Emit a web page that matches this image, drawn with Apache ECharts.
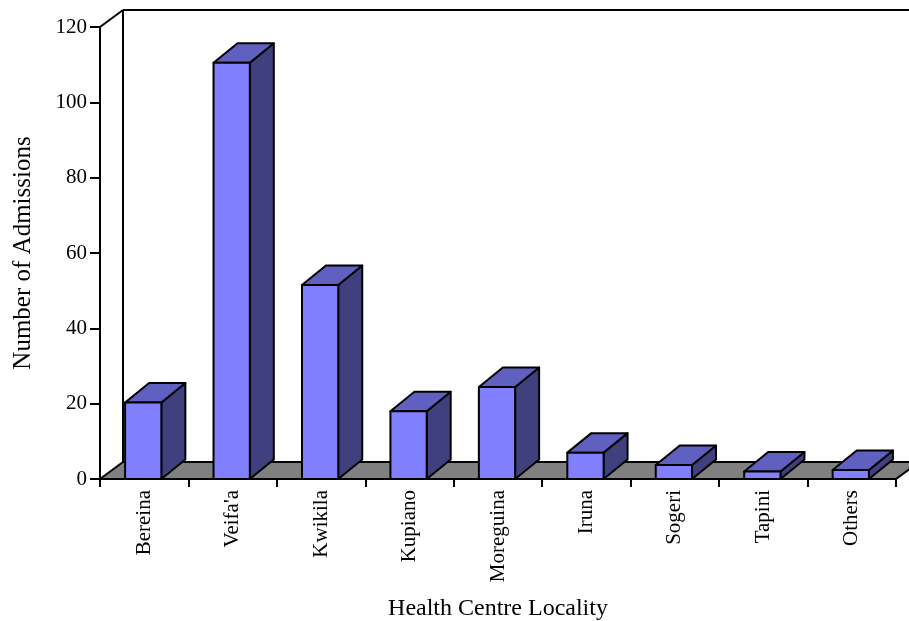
<!DOCTYPE html>
<html>
<head>
<meta charset="utf-8">
<style>html,body{margin:0;padding:0;background:#fff}#c{width:909px;height:621px}</style>
<script src="https://cdn.jsdelivr.net/npm/echarts@6/dist/echarts.min.js"></script>
</head>
<body>
<div id="c"></div>
<script>
const categories = ["Bereina","Veifa'a","Kwikila","Kupiano","Moreguina","Iruna","Sogeri","Tapini","Others"];
const admissions = [20.3,110.5,51.5,18,24.4,7,3.7,2,2.4];
const yTicks = {min:0,max:120,interval:20};
const xTitle = "Health Centre Locality";
const yTitle = "Number of Admissions";

const FONT = '"Liberation Serif","Times New Roman",serif';
const wallDX = 23, wallDY = -17;
const barDX = 24, barDY = -19.5;
const barShare = 0.41;
const ink = {stroke:'#000',lineWidth:2,lineJoin:'round'};

function poly(points, fill, lw){
  return {type:'polygon',shape:{points},style:Object.assign({},ink,{fill,lineWidth:lw||2})};
}
function line(x1,y1,x2,y2){
  return {type:'line',shape:{x1,y1,x2,y2},style:{stroke:'#000',lineWidth:2,fill:null}};
}
function renderFrame(params){
  const g = params.coordSys;
  const l=g.x, r=g.x+g.width, t=g.y, b=g.y+g.height;
  return {type:'group',children:[
    poly([[l,b],[l+wallDX,b+wallDY],[r+wallDX,b+wallDY],[r,b]],'#808080'),
    line(l+wallDX,t+wallDY,l+wallDX,b+wallDY),
    line(l+wallDX,t+wallDY,r+wallDX,t+wallDY),
    line(l,t,l+wallDX,t+wallDY)
  ]};
}
function renderBar(params, api){
  const top = api.coord([api.value(0),api.value(1)]);
  const base = api.coord([api.value(0),0]);
  const w = api.size([1,0])[0]*barShare;
  const L=top[0]-w/2-1, R=L+w, T=top[1], B=base[1];
  return {type:'group',children:[
    poly([[R,T],[R+barDX,T+barDY],[R+barDX,B+barDY],[R,B]],'#40407F'),
    poly([[L,T],[L+barDX,T+barDY],[R+barDX,T+barDY],[R,T]],'#6060C0'),
    poly([[L,T],[R,T],[R,B],[L,B]],'#8080FF')
  ]};
}
const chart = echarts.init(document.getElementById('c'),null,{renderer:'canvas'});
chart.setOption({
  animation:false,
  backgroundColor:'#fff',
  grid:{left:100,top:27,width:796,height:452,containLabel:false,outerBoundsMode:'none'},
  xAxis:{
    type:'category',data:categories,
    axisLine:{show:true,onZero:false,lineStyle:{color:'#000',width:2}},
    axisTick:{show:true,length:8,alignWithLabel:false,lineStyle:{color:'#000',width:2}},
    axisLabel:{interval:0,rotate:90,margin:11,color:'#000',fontFamily:FONT,fontSize:21},
    name:xTitle,nameLocation:'middle',nameGap:118,
    nameTextStyle:{color:'#000',fontFamily:FONT,fontSize:24}
  },
  yAxis:{
    type:'value',min:yTicks.min,max:yTicks.max,interval:yTicks.interval,
    axisLine:{show:true,lineStyle:{color:'#000',width:2}},
    axisTick:{show:true,length:10,lineStyle:{color:'#000',width:2}},
    splitLine:{show:false},
    axisLabel:{margin:13,color:'#000',fontFamily:FONT,fontSize:21},
    name:yTitle,nameLocation:'middle',nameGap:64,nameRotate:90,
    nameTextStyle:{color:'#000',fontFamily:FONT,fontSize:25}
  },
  series:[
    {type:'custom',coordinateSystem:'cartesian2d',data:[[0,0]],clip:false,silent:true,z:1,renderItem:renderFrame},
    {type:'custom',coordinateSystem:'cartesian2d',clip:false,z:3,encode:{x:0,y:1},
     data:categories.map((c,i)=>[i,admissions[i]]),renderItem:renderBar}
  ]
});
</script>
</body>
</html>
